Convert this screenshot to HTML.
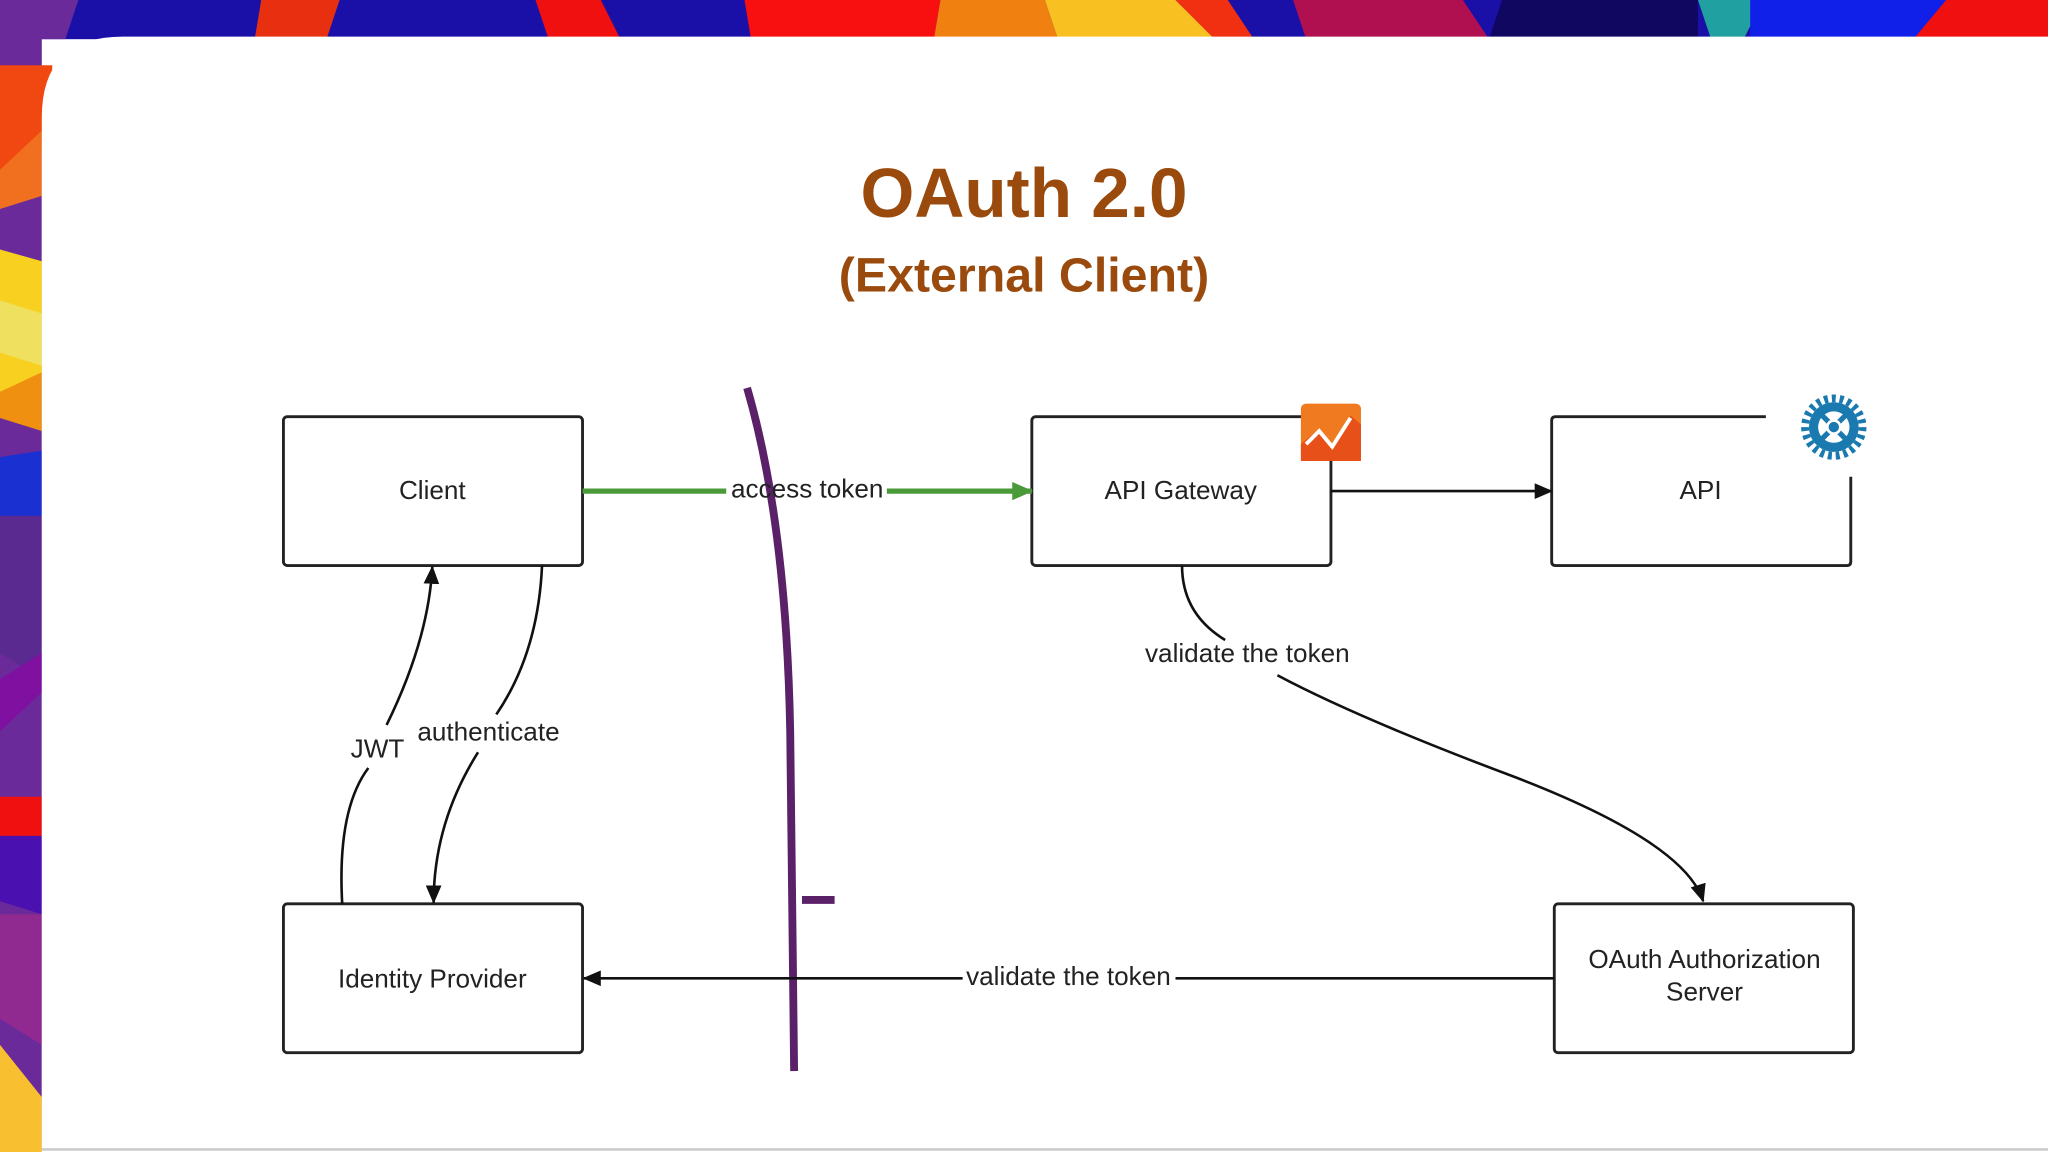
<!DOCTYPE html>
<html><head><meta charset="utf-8"><style>
html,body{margin:0;padding:0;width:2048px;height:1152px;overflow:hidden;background:#fff}
svg{display:block}
text{font-family:"Liberation Sans",sans-serif;fill:#222}
</style></head><body>
<svg width="2048" height="1152" viewBox="0 0 1568 882" xmlns="http://www.w3.org/2000/svg">
<defs>
<marker id="ab" markerWidth="14" markerHeight="12" refX="13" refY="6" orient="auto" markerUnits="userSpaceOnUse"><path d="M0,0 L14,6 L0,12 z" fill="#111"/></marker>
<marker id="ag" markerWidth="16" markerHeight="14" refX="15" refY="7" orient="auto" markerUnits="userSpaceOnUse"><path d="M0,0 L16,7 L0,14 z" fill="#4a9a3a"/></marker>
</defs>
<!-- top band -->
<rect x="0" y="0" width="1568" height="30" fill="#1a10a8"/>
<polygon points="0,0 60,0 50,30 0,30" fill="#6a2a9a"/>
<polygon points="200,0 260,0 250,30 195,30" fill="#e83010"/>
<polygon points="410,0 460,0 475,30 420,30" fill="#f01010"/>
<polygon points="570,0 720,0 715,30 575,30" fill="#f81010"/>
<polygon points="720,0 800,0 810,30 715,30" fill="#f08010"/>
<polygon points="800,0 900,0 930,30 810,30" fill="#f8c020"/>
<polygon points="900,0 940,0 960,30 930,30" fill="#f03010"/>
<polygon points="990,0 1120,0 1140,30 1000,30" fill="#b01050"/>
<polygon points="1150,0 1300,0 1300,30 1140,30" fill="#100860"/>
<polygon points="1300,0 1350,0 1335,30 1310,30" fill="#20a0a0"/>
<polygon points="1340,0 1490,0 1470,30 1340,30" fill="#1020e8"/>
<polygon points="1490,0 1568,0 1568,30 1465,30" fill="#f01010"/>
<!-- left band -->
<rect x="0" y="0" width="32" height="882" fill="#6a2a9a"/>
<polygon points="0,50 40,50 40,110 0,130" fill="#f04810"/>
<polygon points="0,130 32,100 32,150 0,160" fill="#f07020"/>
<polygon points="0,191 32,200 32,290 0,300" fill="#f8d020"/>
<polygon points="0,230 32,240 32,280 0,270" fill="#f0e060"/>
<polygon points="0,300 32,285 32,330 0,320" fill="#f09010"/>
<polygon points="0,350 32,345 32,395 0,395" fill="#1a30d0"/>
<polygon points="0,395 32,395 32,520 0,500" fill="#5a2a90"/>
<polygon points="0,520 32,500 32,530 0,560" fill="#8010a0"/>
<rect x="0" y="610" width="32" height="30" fill="#f01010"/>
<polygon points="0,640 32,640 32,700 0,690" fill="#4a10b0"/>
<polygon points="0,700 32,700 32,800 0,780" fill="#902a90"/>
<polygon points="0,800 32,840 32,882 0,882" fill="#f8c030"/>
<!-- white panel -->
<path d="M32,882 L32,90 Q32,28 94,28 L1568,28 L1568,882 Z" fill="#fff"/>
<line x1="32" y1="880" x2="1568" y2="880" stroke="#ccc" stroke-width="2"/>
<!-- title -->
<text x="784" y="166" text-anchor="middle" style="font-weight:bold;font-size:53px;fill:#9a4a0c">OAuth 2.0</text>
<text x="784" y="223" text-anchor="middle" style="font-weight:bold;font-size:37px;fill:#9a4a0c">(External Client)</text>
<!-- boxes -->
<g fill="none" stroke="#222" stroke-width="2.2">
<rect x="217" y="319" width="229" height="114" rx="3"/>
<rect x="790" y="319" width="229" height="114" rx="3"/>
<rect x="217" y="692" width="229" height="114" rx="3"/>
<rect x="1190" y="692" width="229" height="114" rx="3"/>
<path d="M1352,319 L1191,319 Q1188,319 1188,322 L1188,430 Q1188,433 1191,433 L1414,433 Q1417,433 1417,430 L1417,365"/>
</g>
<text x="331" y="382" text-anchor="middle" font-size="20">Client</text>
<text x="904" y="382" text-anchor="middle" font-size="20">API Gateway</text>
<text x="1302" y="382" text-anchor="middle" font-size="20">API</text>
<text x="331" y="756" text-anchor="middle" font-size="20">Identity Provider</text>
<text x="1305" y="741" text-anchor="middle" font-size="20">OAuth Authorization</text>
<text x="1305" y="766" text-anchor="middle" font-size="20">Server</text>
<!-- icons -->
<rect x="996" y="309" width="46" height="44" rx="4" fill="#f07a20"/>
<path d="M996,353 L996,340 L1008,330 L1018,342 L1034,318 L1042,325 L1042,353 Z" fill="#e8501a"/>
<polyline points="1000,340 1010,330 1020,342 1034,320" fill="none" stroke="#fff" stroke-width="3"/>
<g transform="translate(1404,327)">
<circle r="22" fill="none" stroke="#1a7ab0" stroke-width="6" stroke-dasharray="3 3"/>
<circle r="19" fill="#1a7ab0"/>
<circle r="12" fill="#fff"/>
<circle r="5" fill="#1a7ab0"/>
<g stroke="#1a7ab0" stroke-width="4"><line x1="-12" y1="-12" x2="12" y2="12"/><line x1="-12" y1="12" x2="12" y2="-12"/></g>
<circle r="5" fill="none" stroke="#fff" stroke-width="2"/>
</g>
<!-- purple curve -->
<path d="M572,297 Q602,400 605,560 L608,820" fill="none" stroke="#5a2068" stroke-width="6"/>
<line x1="614" y1="689" x2="639" y2="689" stroke="#5a2068" stroke-width="6"/>
<!-- green arrow -->
<line x1="446" y1="376" x2="556" y2="376" stroke="#4a9a3a" stroke-width="4"/>
<line x1="679" y1="376" x2="790" y2="376" stroke="#4a9a3a" stroke-width="4" marker-end="url(#ag)"/>
<text x="618" y="381" text-anchor="middle" font-size="20">access token</text>
<!-- gateway to api -->
<line x1="1019" y1="376" x2="1188" y2="376" stroke="#111" stroke-width="2" marker-end="url(#ab)"/>
<!-- validate -->
<path d="M905,433 Q905,470 938,490" fill="none" stroke="#111" stroke-width="2"/>
<text x="955" y="507" text-anchor="middle" font-size="20">validate the token</text>
<path d="M978,517 Q1040,550 1160,595 Q1290,645 1304,690" fill="none" stroke="#111" stroke-width="2" marker-end="url(#ab)"/>
<!-- JWT -->
<path d="M262,692 Q258,620 282,588" fill="none" stroke="#111" stroke-width="2"/>
<path d="M296,555 Q328,490 331,434" fill="none" stroke="#111" stroke-width="2" marker-end="url(#ab)"/>
<text x="289" y="580" text-anchor="middle" font-size="20">JWT</text>
<!-- authenticate -->
<path d="M415,433 Q412,500 380,547" fill="none" stroke="#111" stroke-width="2"/>
<path d="M366,576 Q332,630 332,691" fill="none" stroke="#111" stroke-width="2" marker-end="url(#ab)"/>
<text x="374" y="567" text-anchor="middle" font-size="20">authenticate</text>
<!-- bottom -->
<line x1="1190" y1="749" x2="900" y2="749" stroke="#111" stroke-width="2"/>
<line x1="737" y1="749" x2="447" y2="749" stroke="#111" stroke-width="2" marker-end="url(#ab)"/>
<text x="818" y="754" text-anchor="middle" font-size="20">validate the token</text>
</svg>
</body></html>
